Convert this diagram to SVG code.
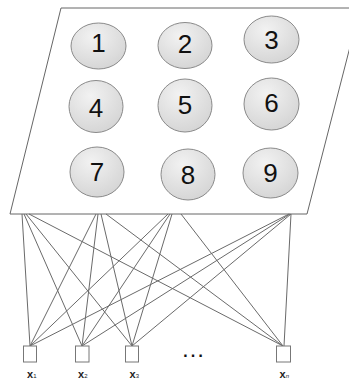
<svg xmlns="http://www.w3.org/2000/svg" width="349" height="380" viewBox="0 0 349 380">
<defs>
<radialGradient id="g" cx="0.4" cy="0.3" r="0.75">
<stop offset="0" stop-color="#f2f2f2"/>
<stop offset="1" stop-color="#d4d4d4"/>
</radialGradient>
</defs>
<style>
.n ellipse{fill:url(#g);stroke:#8a8a8a;stroke-width:1}
.n text{font-family:"Liberation Sans",Arial,sans-serif;font-size:26px;fill:#111;text-anchor:middle}
.c line{stroke:#6a6a6a;stroke-width:1}
.in rect{fill:#fff;stroke:#777;stroke-width:1}
.lb{font-family:"Liberation Sans",Arial,sans-serif;font-size:11px;font-weight:bold;fill:#222}
.sb{font-size:6px;font-weight:normal}
</style>
<rect width="349" height="380" fill="#fff"/>
<g id="layer">
<polygon points="61,8 360,8 307,214 10,214" fill="#fff" stroke="#666" stroke-width="1"/>
</g>
<g id="n1" class="n"><ellipse cx="98.5" cy="46" rx="27.5" ry="23"/><text x="98.5" y="52">1</text></g>
<g id="n2" class="n"><ellipse cx="185" cy="45.5" rx="27" ry="23"/><text x="185" y="53">2</text></g>
<g id="n3" class="n"><ellipse cx="271.5" cy="39.5" rx="27.5" ry="23.5"/><text x="271.5" y="49">3</text></g>
<g id="n4" class="n"><ellipse cx="96" cy="106.5" rx="27" ry="26"/><text x="96" y="116.5">4</text></g>
<g id="n5" class="n"><ellipse cx="185" cy="105.5" rx="27" ry="26.5"/><text x="185" y="113.5">5</text></g>
<g id="n6" class="n"><ellipse cx="271.5" cy="104" rx="27.5" ry="26"/><text x="271.5" y="111.5">6</text></g>
<g id="n7" class="n"><ellipse cx="97" cy="172" rx="27" ry="25"/><text x="97" y="180.5">7</text></g>
<g id="n8" class="n"><ellipse cx="188" cy="174.5" rx="27" ry="25.5"/><text x="188" y="183.5">8</text></g>
<g id="n9" class="n"><ellipse cx="270.5" cy="173" rx="27.5" ry="25"/><text x="270.5" y="181.5">9</text></g>
<g id="connectors" class="c">
<line x1="22" y1="214" x2="30" y2="346"/>
<line x1="24" y1="214" x2="82" y2="346"/>
<line x1="26" y1="214" x2="132" y2="346"/>
<line x1="29" y1="214" x2="283" y2="346"/>
<line x1="96" y1="214" x2="30" y2="346"/>
<line x1="98" y1="214" x2="82" y2="346"/>
<line x1="101" y1="214" x2="132" y2="346"/>
<line x1="106" y1="214" x2="283" y2="346"/>
<line x1="168" y1="214" x2="30" y2="346"/>
<line x1="170" y1="214" x2="82" y2="346"/>
<line x1="172" y1="214" x2="132" y2="346"/>
<line x1="181" y1="214" x2="283" y2="346"/>
<line x1="289" y1="214" x2="30" y2="346"/>
<line x1="290" y1="214" x2="82" y2="346"/>
<line x1="291" y1="214" x2="132" y2="346"/>
<line x1="291" y1="214" x2="284" y2="346"/>
</g>
<g id="x1" class="in"><rect x="23.5" y="346" width="13" height="16"/><text class="lb" x="27" y="378">x<tspan class="sb">1</tspan></text></g>
<g id="x2" class="in"><rect x="75.5" y="346" width="13.5" height="16"/><text class="lb" x="78" y="378">x<tspan class="sb">2</tspan></text></g>
<g id="x3" class="in"><rect x="125.5" y="346" width="13" height="16"/><text class="lb" x="129.5" y="378">x<tspan class="sb">3</tspan></text></g>
<g id="xn" class="in"><rect x="276.5" y="346" width="14" height="16"/><text class="lb" x="279.5" y="378">x<tspan class="sb" font-style="italic" font-size="7">n</tspan></text></g>
<text id="dots" x="193" y="357" font-family="'Liberation Sans',Arial,sans-serif" font-size="24" fill="#111" text-anchor="middle">…</text>
</svg>
